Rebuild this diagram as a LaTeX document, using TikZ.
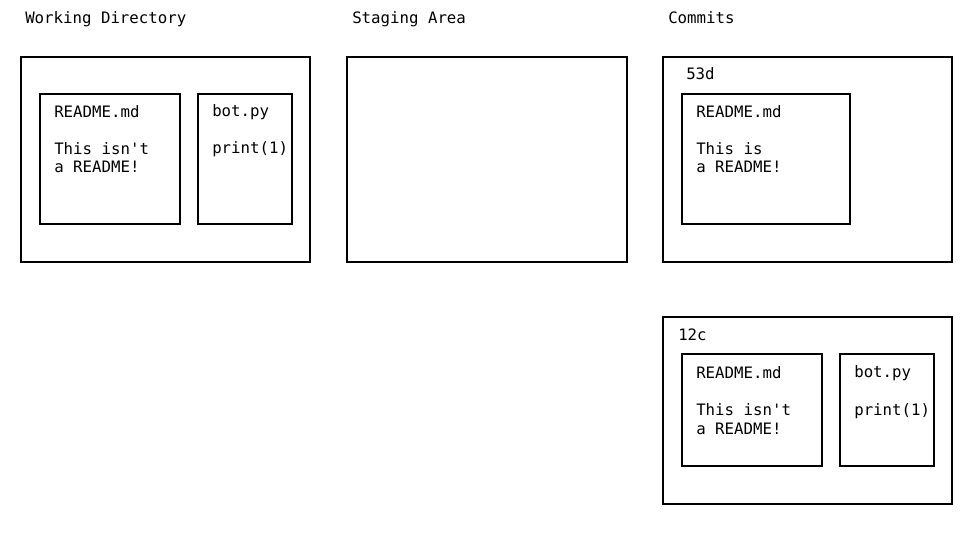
\documentclass[tikz,border=0pt]{standalone}
\usepackage{fontspec}
\setmonofont{DejaVu Sans Mono}
\begin{document}
\begin{tikzpicture}[x=0.75pt,y=-0.75pt,
  box/.style={draw=black,line width=1.5pt,fill=none},
  txt/.style={anchor=base west,inner sep=0pt,align=left,
    font=\ttfamily\fontsize{11.8}{13.9}\selectfont}]
\useasboundingbox (0,0) rectangle (974,534);
% titles
\node[txt] (twd) at (25,24) {Working Directory};
\node[txt] (tsa) at (352,24) {Staging Area};
\node[txt] (tco) at (668,24) {Commits};
% working directory
\draw[box] (21,57) rectangle (310,262);
\draw[box] (40,94) rectangle (180,224);
\draw[box] (198,94) rectangle (292,224);
\node[txt] (wdr) at (54,173) {README.md\\[13.9pt]This isn't\\a README!};
\node[txt] (wdb) at (212,154) {bot.py\\[13.9pt]print(1)};
% staging
\draw[box] (347,57) rectangle (627,262);
% commit 53d
\draw[box] (663,57) rectangle (952,262);
\node[txt] (c1) at (686,80) {53d};
\draw[box] (682,94) rectangle (850,224);
\node[txt] (c1r) at (696,173) {README.md\\[13.9pt]This is\\a README!};
% commit 12c
\draw[box] (663,317) rectangle (952,504);
\node[txt] (c2) at (678,341) {12c};
\draw[box] (682,354) rectangle (822,466);
\draw[box] (840,354) rectangle (934,466);
\node[txt] (c2r) at (696,434) {README.md\\[13.9pt]This isn't\\a README!};
\node[txt] (c2b) at (854,415) {bot.py\\[13.9pt]print(1)};
\end{tikzpicture}
\end{document}
